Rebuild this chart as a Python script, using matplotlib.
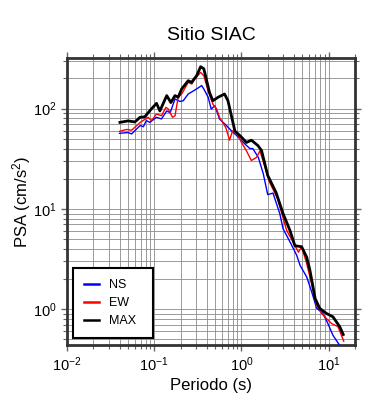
import matplotlib
matplotlib.use("Agg")
import matplotlib.pyplot as plt

plt.rcParams['font.family'] = ['Liberation Sans', 'DejaVu Sans']
plt.rcParams['mathtext.fontset'] = 'custom'
plt.rcParams['mathtext.rm'] = 'Liberation Sans'
plt.rcParams['mathtext.it'] = 'Liberation Sans:italic'
plt.rcParams['mathtext.bf'] = 'Liberation Sans:bold'

title = "Sitio SIAC"
xlabel = "Periodo (s)"
ylabel = "PSA (cm/s$^2$)"

max_T = [0.0404, 0.050, 0.060, 0.0687, 0.078, 0.089, 0.106, 0.116, 0.139, 0.155, 0.173, 0.188,
         0.206, 0.245, 0.268, 0.306, 0.34, 0.37, 0.43, 0.47, 0.54, 0.64, 0.70, 0.84, 1.0, 1.14,
         1.30, 1.55, 1.70, 2.0, 2.5, 3.0, 3.6, 4.1, 4.9, 5.6, 6.1, 7.0, 7.9, 9.4, 11.2, 13.4, 14.7]
max_A = [73, 75.5, 73.7, 82, 83, 95.5, 113, 95, 135, 115, 135, 130,
         157, 190, 183, 213, 262, 250, 145, 120, 130, 140, 120, 60, 52, 46,
         48.5, 42.7, 38.2, 21.6, 14.5, 9.0, 6.1, 4.3, 4.2, 3.3, 2.44, 1.28, 1.02, 0.91, 0.84, 0.67, 0.56]

ew_T = [0.040, 0.048, 0.055, 0.069, 0.085, 0.093, 0.106, 0.121, 0.136, 0.145, 0.162, 0.173,
        0.188, 0.206, 0.245, 0.27, 0.29, 0.34, 0.37, 0.415, 0.47, 0.52, 0.56, 0.66, 0.73,
        0.79, 0.88, 1.0, 1.14, 1.30, 1.49, 1.63, 2.1, 2.6, 3.3, 3.9, 4.5, 4.9, 5.6, 6.1,
        7.3, 8.3, 9.4, 10.8, 12.8, 14.9]
ew_A = [59.4, 62, 61, 73, 82, 76, 88.5, 85, 103, 99, 82, 85,
        130, 140, 183, 176, 197, 230, 213, 150, 111, 99, 82, 65, 48.5,
        60, 58, 46, 38, 30.4, 32.7, 38, 18.5, 12.6, 6.1, 4.7, 3.7, 4.2, 2.85, 2.1,
        1.1, 0.91, 0.81, 0.72, 0.67, 0.48]

ns_T = [0.040, 0.050, 0.055, 0.069, 0.075, 0.081, 0.089, 0.106, 0.121, 0.139, 0.152, 0.173,
        0.197, 0.215, 0.245, 0.28, 0.305, 0.35, 0.37, 0.415, 0.45, 0.495, 0.56, 0.67, 0.77,
        0.88, 1.0, 1.14, 1.25, 1.35, 1.56, 1.78, 2.0, 2.3, 2.75, 3.0, 3.6, 4.3, 4.7, 5.6,
        6.3, 7.3, 8.6, 9.8, 11.2, 13.3]
ns_A = [56.8, 57.8, 56, 68, 66, 76, 73, 82, 79, 95, 91, 125,
        118, 120, 140, 150, 157, 170, 157, 130, 99, 107, 79, 68, 60,
        54, 48, 43, 40, 40, 32.7, 22.4, 13.9, 14.4, 9.0, 6.35, 4.7, 3.45, 2.74, 2.1,
        1.55, 1.02, 0.91, 0.72, 0.55, 0.44]

fig = plt.figure(figsize=(3.9, 4.0), dpi=100)
ax = fig.add_axes([0.172, 0.1375, 0.738, 0.7175])

ax.plot(ns_T, ns_A, color='#0000ff', lw=1.0, label='NS', zorder=3)
ax.plot(ew_T, ew_A, color='#ff0000', lw=1.0, label='EW', zorder=3)
ax.plot(max_T, max_A, color='black', lw=2.0, label='MAX', zorder=4)

ax.set_xscale('log')
ax.set_yscale('log')
ax.set_xlim(0.01, 20)
ax.set_ylim(0.44, 320)

ax.grid(True, which='both', color='#8a8a8a', lw=0.6)
ax.set_axisbelow(True)
for s in ax.spines.values():
    s.set_linewidth(2.0)
    s.set_color('#333333')
ax.tick_params(which='both', direction='out', top=True, right=True, color='#666666')
ax.tick_params(which='major', length=4, width=1, labelsize=10.5)
ax.tick_params(which='minor', length=3, width=0.8)
ax.tick_params(axis='x', labeltop=False)

ax.set_title(title, fontsize=14, pad=13)
ax.set_xlabel(xlabel, fontsize=12, labelpad=3)
ax.set_ylabel(ylabel, fontsize=12, labelpad=0)

leg = ax.legend(loc='lower left', bbox_to_anchor=(0.021, 0.024, 0.279, 0.25), mode='expand',
                fontsize=9, frameon=True, fancybox=False, edgecolor='black', framealpha=1,
                handlelength=1.25, borderpad=0.85, labelspacing=0.5, handletextpad=0.8,
                borderaxespad=0)
leg.get_frame().set_linewidth(1.5)
for h in leg.get_lines():
    h.set_linewidth(1.8)

fig.savefig('out.png', dpi=100)
